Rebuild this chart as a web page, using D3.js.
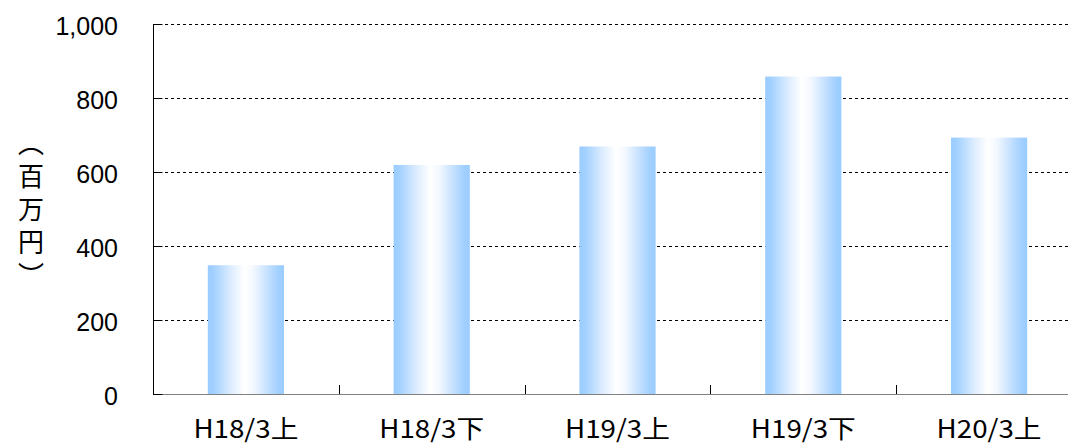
<!DOCTYPE html>
<html>
<head>
<meta charset="utf-8">
<script src="https://cdn.jsdelivr.net/npm/d3@7"></script>
<style>
  html, body { margin: 0; padding: 0; background: #fff; }
  svg { display: block; }
</style>
</head>
<body>
<svg id="chart" width="1068" height="446"></svg>
<script>
// Half-year periods and amounts (millions of yen)
const categories = ["H18/3上", "H18/3下", "H19/3上", "H19/3下", "H20/3上"];
const amounts = [348, 619, 669, 858, 693];
const yTicks = [0, 200, 400, 600, 800, 1000];
const yTitle = "（百万円）";

const svg = d3.select("#chart");
const plot = { left: 153, top: 24, bottom: 394, right: 1082 };

const x = d3.scaleBand()
  .domain(categories)
  .range([plot.left, plot.right])
  .paddingInner(0.59)
  .paddingOuter(0.295);

const y = d3.scaleLinear()
  .domain([0, 1000])
  .range([plot.bottom, plot.top]);

// Cylinder-like horizontal shading for the bars
const defs = svg.append("defs");
const grad = defs.append("linearGradient")
  .attr("id", "barFill")
  .attr("x1", "0%").attr("x2", "100%").attr("y1", "0%").attr("y2", "0%");
[
  [0, "#99ccff"], [0.08, "#a3d1ff"], [0.30, "#dcecff"], [0.48, "#ffffff"],
  [0.60, "#f3f8ff"], [0.82, "#bcdcff"], [0.93, "#a1d0ff"], [1, "#99ccff"]
].forEach(([o, c]) => grad.append("stop").attr("offset", o).attr("stop-color", c));

// Dashed horizontal gridlines
svg.append("g")
  .selectAll("line")
  .data(yTicks.filter(d => d > 0))
  .join("line")
  .attr("x1", plot.left).attr("x2", 1068)
  .attr("y1", d => y(d) + 0.5).attr("y2", d => y(d) + 0.5)
  .attr("stroke", "#000")
  .attr("stroke-width", 1)
  .attr("stroke-dasharray", "3,3");

// Bars
svg.append("g")
  .selectAll("rect")
  .data(categories.map((c, i) => ({ c, v: amounts[i] })))
  .join("rect")
  .attr("x", d => x(d.c))
  .attr("y", d => y(d.v))
  .attr("width", x.bandwidth())
  .attr("height", d => y(0) - y(d.v))
  .attr("fill", "url(#barFill)");

// X axis baseline (grey) with inward category separators
svg.append("line")
  .attr("x1", plot.left).attr("x2", 1068)
  .attr("y1", plot.bottom + 0.5).attr("y2", plot.bottom + 0.5)
  .attr("stroke", "#808080").attr("stroke-width", 1);

const step = x.step();
const separators = d3.range(1, categories.length).map(i => x(categories[i]) - x.paddingInner() * step / 2);
svg.append("g")
  .selectAll("line")
  .data(separators)
  .join("line")
  .attr("x1", d => Math.round(d) + 0.5).attr("x2", d => Math.round(d) + 0.5)
  .attr("y1", plot.bottom - 9).attr("y2", plot.bottom)
  .attr("stroke", "#000").attr("stroke-width", 1);

// Y axis with inward ticks
const yAxis = svg.append("g")
  .attr("transform", `translate(${plot.left + 0.5},0)`)
  .call(d3.axisRight(y).tickValues(yTicks).tickSize(9).tickFormat(""));
yAxis.select(".domain").remove();
yAxis.selectAll(".tick line").attr("stroke", "#000");
svg.append("line")
  .attr("x1", plot.left + 0.5).attr("x2", plot.left + 0.5)
  .attr("y1", plot.top).attr("y2", plot.bottom + 1)
  .attr("stroke", "#000");

// Y tick labels
svg.append("g")
  .selectAll("text")
  .data(yTicks)
  .join("text")
  .attr("x", 118)
  .attr("y", d => y(d) + 11)
  .attr("text-anchor", "end")
  .attr("font-family", "'Liberation Sans', Arial, sans-serif")
  .attr("font-size", 25)
  .attr("fill", "#000")
  .text(d3.format(","));

// X category labels
svg.append("g")
  .selectAll("text")
  .data(categories)
  .join("text")
  .attr("x", d => x(d) + x.bandwidth() / 2 - 52.5)
  .attr("y", 438)
  .attr("textLength", 105)
  .attr("lengthAdjust", "spacingAndGlyphs")
  .attr("font-family", "'Noto Sans CJK JP', sans-serif")
  .attr("font-size", 25)
  .attr("fill", "#000")
  .text(d => d);

// Vertical unit title
svg.append("text")
  .attr("x", 31)
  .attr("y", 130)
  .attr("font-family", "'Noto Sans CJK JP', sans-serif")
  .attr("font-size", 26)
  .attr("letter-spacing", 7)
  .style("writing-mode", "vertical-rl")
  .style("text-orientation", "upright")
  .attr("fill", "#000")
  .text(yTitle);
</script>
</body>
</html>
